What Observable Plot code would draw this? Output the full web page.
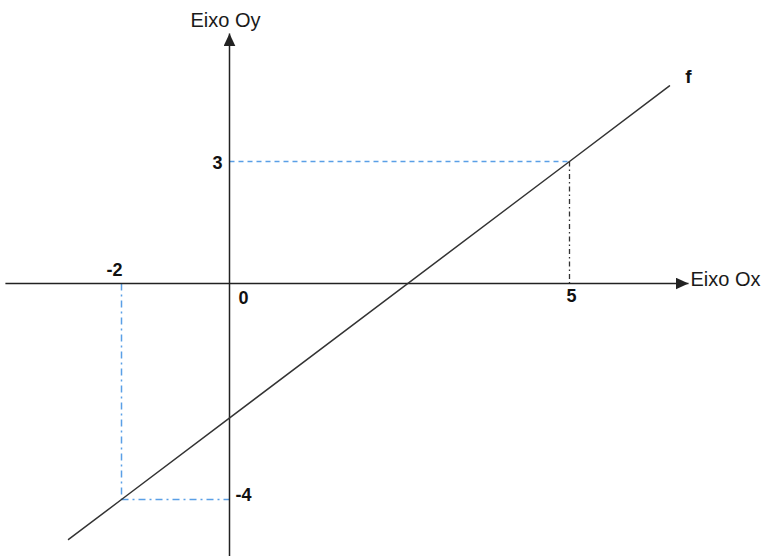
<!DOCTYPE html>
<html>
<head>
<meta charset="utf-8">
<script src="https://cdn.jsdelivr.net/npm/d3@7"></script>
<script src="https://cdn.jsdelivr.net/npm/@observablehq/plot@0.6"></script>
<style>
  html, body { margin: 0; padding: 0; background: #fff; }
  #chart svg { display: block; }
</style>
</head>
<body>
<div id="chart"></div>
<script>
// f(x) = x - 2, shown through the two marked points (-2, -4) and (5, 3)
const fPoints = [
  {x: -2.98, y: -4.74},
  {x: -2, y: -4},
  {x: 5, y: 3},
  {x: 6.47, y: 4.86}
];

// Marked points of f, with their projections onto the axes
const markedX = [-2, 5];
const markedY = [-4, 3];

// Axis extents (data units)
const axisXExtent = [-4.15, 6.75];
const axisYExtent = [-5.06, 6.15];

// Labels
const axisTitles = {x: "Eixo Ox", y: "Eixo Oy"};
const functionName = "f";
const originLabel = "0";

const font = "'Liberation Sans', Arial, sans-serif";
const axisColor = "#222";
const guideBlue = "#5a9fe6";
const labelStyle = {fontSize: 18, fontWeight: "bold", fill: "#111"};

// Filled triangular arrow head used at the end of both axes
function arrowHead(color, context) {
  const doc = (context && context.document) || document;
  const ns = "http://www.w3.org/2000/svg";
  const m = doc.createElementNS(ns, "marker");
  m.setAttribute("viewBox", "-13 -6 13 12");
  m.setAttribute("markerWidth", 13);
  m.setAttribute("markerHeight", 12);
  m.setAttribute("markerUnits", "userSpaceOnUse");
  m.setAttribute("orient", "auto");
  m.setAttribute("refX", 0);
  m.setAttribute("refY", 0);
  const p = doc.createElementNS(ns, "path");
  p.setAttribute("d", "M-13,-6L0,0L-13,6Z");
  p.setAttribute("fill", color);
  p.setAttribute("stroke", "none");
  m.appendChild(p);
  return m;
}

const chart = Plot.plot({
  width: 765,
  height: 556,
  margin: 0,
  style: {background: "#fff", fontFamily: font},
  // the sketch is not drawn to scale: each half-axis has its own unit
  x: {type: "linear", domain: [-2, 0, 5], range: [121, 229, 569], axis: null},
  y: {type: "linear", domain: [-4, 0, 3], range: [499, 283, 161], axis: null},
  marks: [
    // projection of (5, 3)
    Plot.link([{x: markedX[1], y: markedY[1]}], {
      x1: 0, y1: "y", x2: "x", y2: "y",
      stroke: guideBlue, strokeWidth: 1.5, strokeDasharray: "5,4"
    }),
    Plot.link([{x: markedX[1], y: markedY[1]}], {
      x1: "x", y1: "y", x2: "x", y2: 0,
      stroke: "#333", strokeWidth: 1.3, strokeDasharray: "5,3,1.5,3"
    }),
    // projection of (-2, -4)
    Plot.link([{x: markedX[0], y: markedY[0]}], {
      x1: "x", y1: 0, x2: "x", y2: "y",
      stroke: guideBlue, strokeWidth: 1.5, strokeDasharray: "7,4,2,4"
    }),
    Plot.link([{x: markedX[0], y: markedY[0]}], {
      x1: "x", y1: "y", x2: 0, y2: "y",
      stroke: guideBlue, strokeWidth: 1.5, strokeDasharray: "7,4,2,4"
    }),
    // axes
    Plot.link([{a: axisXExtent[0], b: axisXExtent[1]}], {
      x1: "a", x2: "b", y1: 0, y2: 0,
      stroke: axisColor, strokeWidth: 1.5, markerEnd: arrowHead
    }),
    Plot.link([{a: axisYExtent[0], b: axisYExtent[1]}], {
      x1: 0, x2: 0, y1: "a", y2: "b",
      stroke: axisColor, strokeWidth: 1.5, markerEnd: arrowHead
    }),
    // the function f
    Plot.line(fPoints, {x: "x", y: "y", stroke: "#333", strokeWidth: 1.5}),
    // axis titles
    Plot.text([axisTitles.x], {
      x: axisXExtent[1], y: 0, text: d => d, textAnchor: "start",
      dx: 2, dy: -4, fontSize: 20, fill: "#1a1a1a"
    }),
    Plot.text([axisTitles.y], {
      x: 0, y: axisYExtent[1], text: d => d,
      dx: -4, dy: -13, fontSize: 20, fill: "#1a1a1a"
    }),
    // value labels on the x axis
    Plot.text(markedX.filter(d => d < 0), {
      x: d => d, y: 0, text: d => String(d), dx: -7, dy: -13, ...labelStyle
    }),
    Plot.text(markedX.filter(d => d > 0), {
      x: d => d, y: 0, text: d => String(d), dx: 2, dy: 13, ...labelStyle
    }),
    // value labels on the y axis
    Plot.text(markedY.filter(d => d < 0), {
      x: 0, y: d => d, text: d => String(d), dx: 14, dy: -4, ...labelStyle
    }),
    Plot.text(markedY.filter(d => d > 0), {
      x: 0, y: d => d, text: d => String(d), dx: -12, dy: 2, ...labelStyle
    }),
    Plot.text([originLabel], {
      x: 0, y: 0, text: d => d, dx: 14, dy: 15, ...labelStyle
    }),
    Plot.text([fPoints[fPoints.length - 1]], {
      x: "x", y: "y", text: () => functionName, dx: 19, dy: -9,
      ...labelStyle, fontSize: 19
    })
  ]
});

document.getElementById("chart").appendChild(chart);
</script>
</body>
</html>
